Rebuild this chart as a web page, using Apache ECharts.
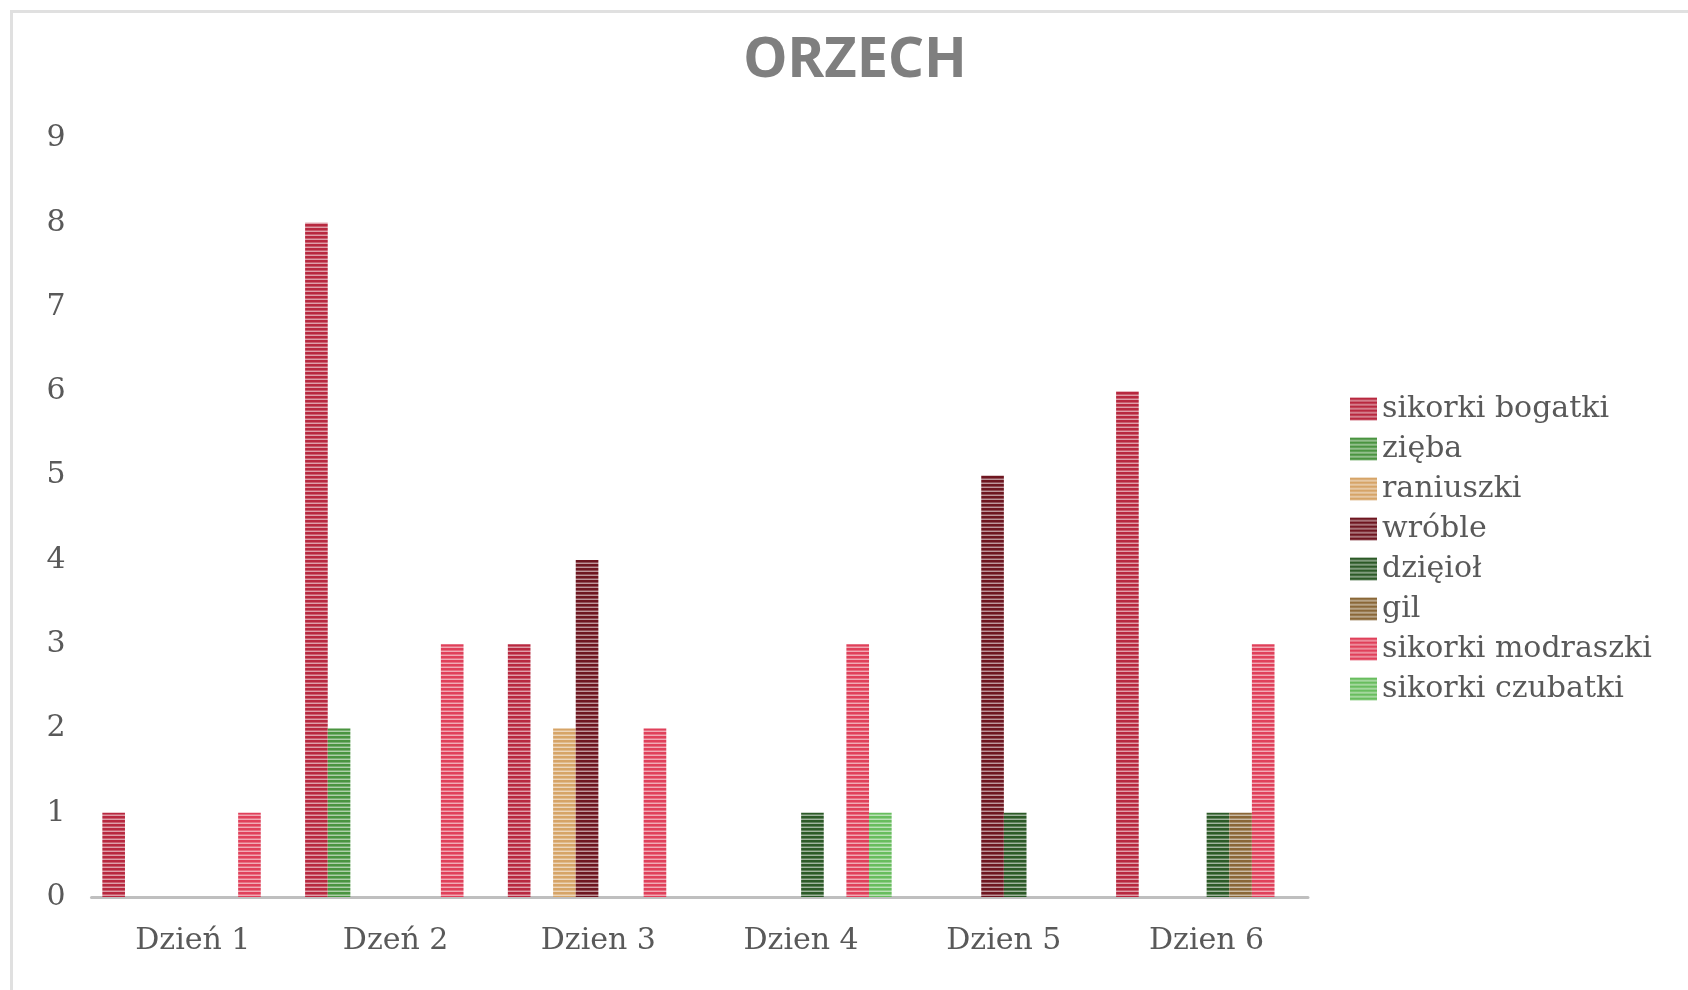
<!DOCTYPE html>
<html><head><meta charset="utf-8">
<script src="https://cdn.jsdelivr.net/npm/echarts@6/dist/echarts.min.js"></script>
<style>html,body{margin:0;padding:0;background:#fff}#c{width:1688px;height:990px}</style>
</head><body><div id="c"></div>
<script>
const title = 'ORZECH';
const categories = ['Dzień 1', 'Dzeń 2', 'Dzien 3', 'Dzien 4', 'Dzien 5', 'Dzien 6'];
const seriesNames = ['sikorki bogatki', 'zięba', 'raniuszki', 'wróble', 'dzięioł', 'gil', 'sikorki modraszki', 'sikorki czubatki'];
const sikorkiBogatki   = [1, 8, 3, 0, 0, 6];
const zieba            = [0, 2, 0, 0, 0, 0];
const raniuszki        = [0, 0, 2, 0, 0, 0];
const wroble           = [0, 0, 4, 0, 5, 0];
const dzieciol         = [0, 0, 0, 1, 1, 1];
const gil              = [0, 0, 0, 0, 0, 1];
const sikorkiModraszki = [1, 3, 2, 3, 0, 3];
const sikorkiCzubatki  = [0, 0, 0, 1, 0, 0];
const yTicks = [0, 1, 2, 3, 4, 5, 6, 7, 8, 9];

const seriesData = [sikorkiBogatki, zieba, raniuszki, wroble, dzieciol, gil, sikorkiModraszki, sikorkiCzubatki];
const colors = ['#b8283f', '#4a9440', '#d6a467', '#6e1620', '#2c5a27', '#8a6737', '#e0405a', '#68bd5e'];

function mix(hex, t) {
  const n = parseInt(hex.slice(1), 16);
  const r = (n >> 16) & 255, g = (n >> 8) & 255, b = n & 255;
  const f = c => Math.round(c + (255 - c) * t);
  return 'rgb(' + f(r) + ',' + f(g) + ',' + f(b) + ')';
}
function makePattern(hex) {
  const cv = document.createElement('canvas');
  cv.width = 4; cv.height = 4;
  const ctx = cv.getContext('2d');
  ctx.fillStyle = hex; ctx.fillRect(0, 0, 4, 4);
  ctx.fillStyle = mix(hex, 0.55); ctx.fillRect(0, 3, 4, 1);
  ctx.fillStyle = mix(hex, 0.25); ctx.fillRect(0, 2, 4, 1);
  return { image: cv, repeat: 'repeat' };
}

const chart = echarts.init(document.getElementById('c'), null, { renderer: 'canvas' });
chart.setOption({
  backgroundColor: '#fff',
  animation: false,
  graphic: [{
    type: 'rect', left: 9, top: 9, z: -1,
    shape: { width: 1700, height: 1000 },
    style: { fill: 'none', stroke: '#e0e0e0', lineWidth: 3 }
  }],
  title: {
    text: title, left: 850, top: 56, textAlign: 'center', textVerticalAlign: 'middle',
    textStyle: { fontFamily: 'Noto Sans', fontWeight: 'bold', fontSize: 56, color: '#7f7f7f' }
  },
  legend: {
    orient: 'vertical', left: 1345, top: 384,
    itemWidth: 27, itemHeight: 23, itemGap: 0,
    icon: 'rect',
    textStyle: { fontFamily: 'DejaVu Serif', fontSize: 30, color: '#595959', lineHeight: 40 },
    data: seriesNames
  },
  grid: { left: 91.5, right: 380, top: 138.5, bottom: 93, containLabel: false },
  xAxis: {
    type: 'category', data: categories,
    axisLine: { lineStyle: { color: '#bfbfbf', width: 3 } },
    axisTick: { show: false },
    axisLabel: { fontFamily: 'DejaVu Serif', fontSize: 30, color: '#595959', margin: 29 }
  },
  yAxis: {
    type: 'value', min: 0, max: 9, interval: 1,
    splitLine: { show: false },
    axisLine: { show: false }, axisTick: { show: false },
    axisLabel: { fontFamily: 'DejaVu Serif', fontSize: 30, color: '#595959', margin: 26,
      formatter: v => yTicks.includes(v) ? String(v) : '' }
  },
  series: seriesNames.map((name, i) => ({
    name, type: 'bar', data: seriesData[i],
    barGap: '0%', barCategoryGap: '10.7%',
    itemStyle: { color: makePattern(colors[i]) }
  }))
});
</script></body></html>
